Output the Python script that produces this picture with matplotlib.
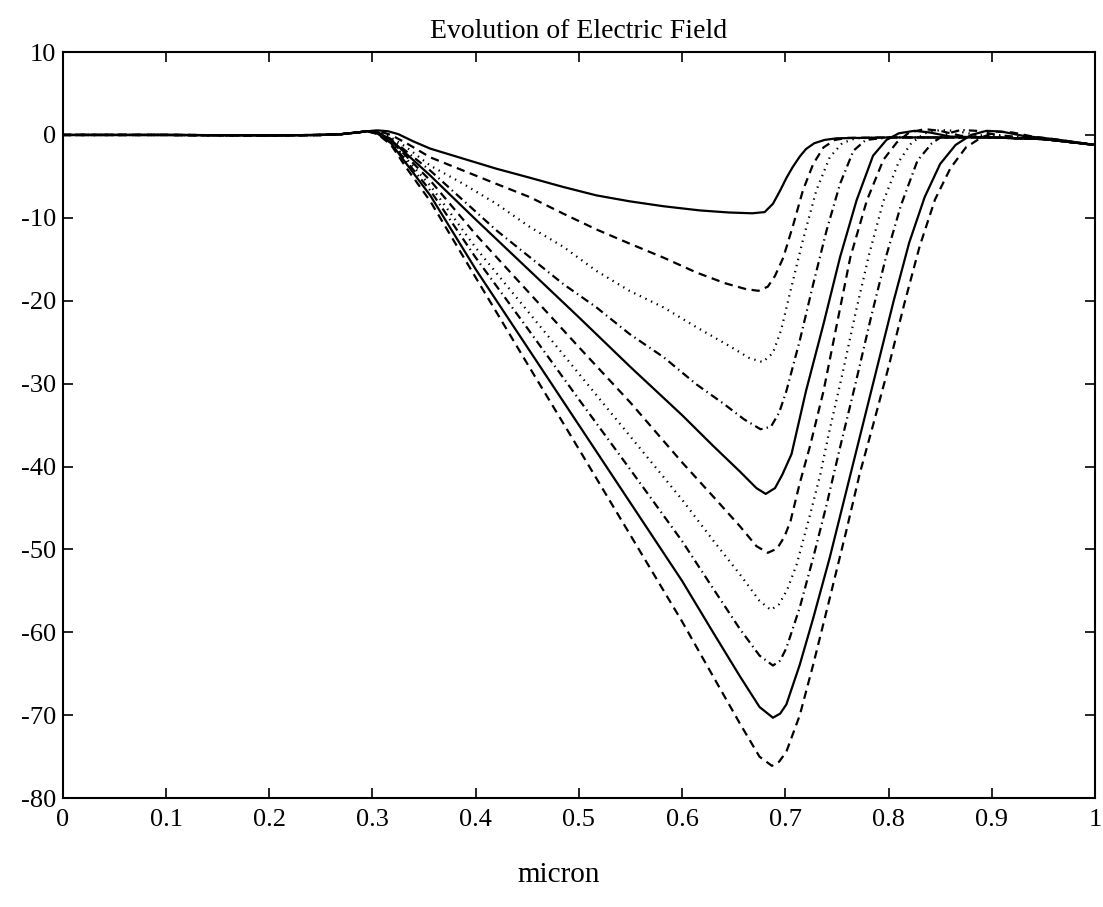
import numpy as np
import matplotlib
matplotlib.use("Agg")
import matplotlib.pyplot as plt

# flat part shared by every time step
x_lead = [0.0, 0.1, 0.2, 0.25, 0.27, 0.285]
E_lead = [0.0, 0.0, -0.05, 0.0, 0.1, 0.3]

# field profiles, one per time step
x01 = [0.295, 0.305, 0.315, 0.325, 0.34, 0.356, 0.388, 0.42, 0.4525, 0.485, 0.517, 0.549, 0.582, 0.617, 0.645, 0.668, 0.68, 0.688, 0.695, 0.701, 0.707, 0.714, 0.72, 0.728, 0.738, 0.75, 0.80, 0.90, 0.95, 1.0]
E01 = [0.45, 0.55, 0.45, 0.1, -0.8, -1.65, -2.86, -4.07, -5.16, -6.28, -7.29, -8.0, -8.6, -9.1, -9.35, -9.45, -9.3, -8.3, -6.7, -5.2, -3.9, -2.6, -1.7, -1.0, -0.6, -0.4, -0.3, -0.3, -0.5, -1.2]

x02 = [0.295, 0.305, 0.318, 0.333, 0.356, 0.388, 0.42, 0.4525, 0.485, 0.517, 0.549, 0.582, 0.614, 0.642, 0.662, 0.674, 0.683, 0.69, 0.698, 0.708, 0.717, 0.727, 0.737, 0.748, 0.76, 0.80, 0.90, 0.95, 1.0]
E02 = [0.45, 0.5, 0.0, -1.0, -2.7, -4.3, -5.9, -7.5, -9.5, -11.4, -13.1, -14.8, -16.6, -17.9, -18.6, -18.8, -18.3, -17.0, -14.8, -10.7, -6.7, -3.5, -1.5, -0.6, -0.35, -0.3, -0.3, -0.5, -1.2]

x03 = [0.295, 0.305, 0.318, 0.333, 0.356, 0.388, 0.42, 0.4525, 0.485, 0.517, 0.549, 0.582, 0.614, 0.645, 0.665, 0.678, 0.688, 0.696, 0.705, 0.717, 0.73, 0.743, 0.755, 0.768, 0.80, 0.90, 0.95, 1.0]
E03 = [0.45, 0.45, -0.3, -1.5, -3.7, -5.9, -8.3, -11.1, -13.5, -16.4, -18.8, -20.8, -23.2, -25.4, -26.9, -27.4, -26.3, -23.5, -18.8, -12.7, -6.7, -2.7, -1.0, -0.4, -0.3, -0.3, -0.5, -1.2]

x04 = [0.295, 0.305, 0.318, 0.333, 0.356, 0.388, 0.42, 0.4525, 0.485, 0.517, 0.549, 0.582, 0.614, 0.64, 0.66, 0.676, 0.686, 0.694, 0.701, 0.714, 0.727, 0.74, 0.753, 0.766, 0.778, 0.80, 0.90, 0.95, 1.0]
E04 = [0.45, 0.4, -0.5, -2.0, -4.3, -7.9, -11.5, -14.75, -18.0, -20.8, -24.0, -26.8, -30.1, -32.4, -34.3, -35.5, -35.2, -33.5, -30.9, -24.8, -18.0, -11.5, -5.9, -1.9, -0.6, -0.3, -0.3, -0.5, -1.2]

x05 = [0.295, 0.305, 0.318, 0.333, 0.356, 0.40, 0.45, 0.50, 0.55, 0.60, 0.63, 0.656, 0.672, 0.681, 0.69, 0.697, 0.706, 0.72, 0.737, 0.753, 0.769, 0.785, 0.798, 0.81, 0.825, 0.84, 0.86, 0.90, 0.95, 1.0]
E05 = [0.45, 0.35, -0.6, -2.3, -4.9, -10.2, -16.1, -22.0, -28.0, -33.8, -37.5, -40.6, -42.6, -43.3, -42.6, -41.0, -38.5, -30.9, -22.8, -14.75, -7.9, -2.5, -0.6, 0.2, 0.5, 0.3, -0.2, -0.3, -0.5, -1.2]

x06 = [0.295, 0.305, 0.318, 0.333, 0.356, 0.40, 0.45, 0.50, 0.55, 0.60, 0.63, 0.656, 0.672, 0.683, 0.692, 0.699, 0.705, 0.714, 0.724, 0.737, 0.75, 0.763, 0.779, 0.795, 0.808, 0.82, 0.835, 0.85, 0.87, 0.90, 0.95, 1.0]
E06 = [0.45, 0.3, -0.7, -2.6, -5.5, -12.0, -18.8, -25.6, -32.3, -39.5, -43.6, -47.2, -49.6, -50.4, -49.9, -48.5, -46.6, -42.0, -37.5, -30.9, -22.8, -14.75, -7.9, -3.0, -0.9, 0.3, 0.7, 0.5, -0.1, -0.3, -0.5, -1.2]

x07 = [0.295, 0.305, 0.318, 0.333, 0.356, 0.40, 0.45, 0.50, 0.55, 0.60, 0.63, 0.656, 0.675, 0.686, 0.694, 0.702, 0.711, 0.724, 0.734, 0.742, 0.755, 0.768, 0.781, 0.795, 0.81, 0.822, 0.835, 0.85, 0.865, 0.885, 0.92, 0.95, 1.0]
E07 = [0.45, 0.25, -0.8, -2.9, -6.1, -13.6, -21.2, -28.8, -36.4, -44.0, -48.9, -53.0, -56.2, -57.3, -56.6, -54.8, -51.8, -45.8, -40.9, -36.1, -29.0, -21.5, -14.5, -8.0, -3.2, -1.0, 0.2, 0.6, 0.5, 0.0, -0.3, -0.5, -1.2]

x08 = [0.295, 0.305, 0.318, 0.333, 0.356, 0.40, 0.45, 0.50, 0.55, 0.60, 0.63, 0.656, 0.675, 0.688, 0.695, 0.701, 0.714, 0.727, 0.74, 0.753, 0.768, 0.783, 0.798, 0.812, 0.828, 0.842, 0.855, 0.87, 0.885, 0.905, 0.93, 0.96, 1.0]
E08 = [0.45, 0.2, -0.9, -3.2, -6.7, -14.8, -23.3, -31.9, -40.4, -49.0, -54.7, -59.6, -62.8, -64.0, -63.4, -61.9, -57.0, -51.0, -44.6, -37.7, -30.0, -22.0, -14.5, -8.5, -3.1, -1.0, 0.1, 0.6, 0.5, 0.0, -0.3, -0.6, -1.2]

x09 = [0.295, 0.305, 0.318, 0.333, 0.356, 0.40, 0.45, 0.50, 0.55, 0.60, 0.63, 0.656, 0.675, 0.688, 0.695, 0.701, 0.714, 0.727, 0.743, 0.759, 0.775, 0.79, 0.805, 0.82, 0.835, 0.85, 0.865, 0.88, 0.895, 0.91, 0.93, 0.96, 1.0]
E09 = [0.45, 0.15, -1.0, -3.5, -7.3, -16.2, -25.6, -35.0, -44.4, -53.8, -60.0, -65.3, -69.0, -70.3, -69.8, -68.7, -63.9, -58.3, -51.0, -43.0, -35.0, -27.5, -20.0, -13.0, -7.5, -3.5, -1.2, 0.0, 0.5, 0.4, -0.1, -0.5, -1.2]

x10 = [0.295, 0.305, 0.318, 0.333, 0.356, 0.40, 0.45, 0.50, 0.55, 0.60, 0.63, 0.656, 0.675, 0.687, 0.694, 0.701, 0.714, 0.727, 0.743, 0.759, 0.772, 0.785, 0.80, 0.815, 0.83, 0.845, 0.86, 0.875, 0.89, 0.905, 0.92, 0.94, 0.96, 1.0]
E10 = [0.45, 0.1, -1.2, -4.0, -8.0, -17.2, -27.6, -37.9, -48.3, -58.7, -65.3, -71.0, -75.0, -76.1, -75.6, -74.4, -70.0, -63.9, -55.9, -47.8, -40.9, -35.0, -28.0, -20.5, -13.5, -7.8, -4.0, -1.5, -0.3, 0.4, 0.3, -0.2, -0.5, -1.2]

xticks = [0, 0.1, 0.2, 0.3, 0.4, 0.5, 0.6, 0.7, 0.8, 0.9, 1.0]
xtick_labels = ['0', '0.1', '0.2', '0.3', '0.4', '0.5', '0.6', '0.7', '0.8', '0.9', '1']
yticks = [-80, -70, -60, -50, -40, -30, -20, -10, 0, 10]

plt.rcParams['font.family'] = ['Liberation Serif', 'DejaVu Serif']
plt.rcParams['axes.unicode_minus'] = False
plt.rcParams['lines.scale_dashes'] = False

# matlab style line order: solid, dashed, dotted, dash-dot
styles = ['-', (0, (6, 4)), (0, (1, 3.5)), (0, (6, 3, 1, 3))]
curves = [(x01, E01), (x02, E02), (x03, E03), (x04, E04), (x05, E05),
          (x06, E06), (x07, E07), (x08, E08), (x09, E09), (x10, E10)]

fig = plt.figure(figsize=(11.03, 9.07), dpi=100)
ax = fig.add_axes([0.057, 0.12, 0.9357, 0.8226])

for i, (x, E) in enumerate(curves):
    ax.plot(x_lead + x, E_lead + E, color='black', lw=1.6, linestyle=styles[i % 4])

ax.set_xlim(0, 1)
ax.set_ylim(-80, 10)
ax.set_xticks(xticks)
ax.set_xticklabels(xtick_labels)
ax.set_yticks(yticks)
ax.tick_params(direction='in', top=True, right=True, length=7, width=1.2,
               labelsize=19)
ax.tick_params(axis='x', pad=8)
ax.tick_params(axis='y', pad=5)
for s in ax.spines.values():
    s.set_linewidth(1.5)

ax.set_title('Evolution of Electric Field', fontsize=20, pad=10)
ax.set_xlabel('micron', fontsize=21)
ax.xaxis.set_label_coords(0.48, -0.085)

fig.savefig('out.png', dpi=100)
